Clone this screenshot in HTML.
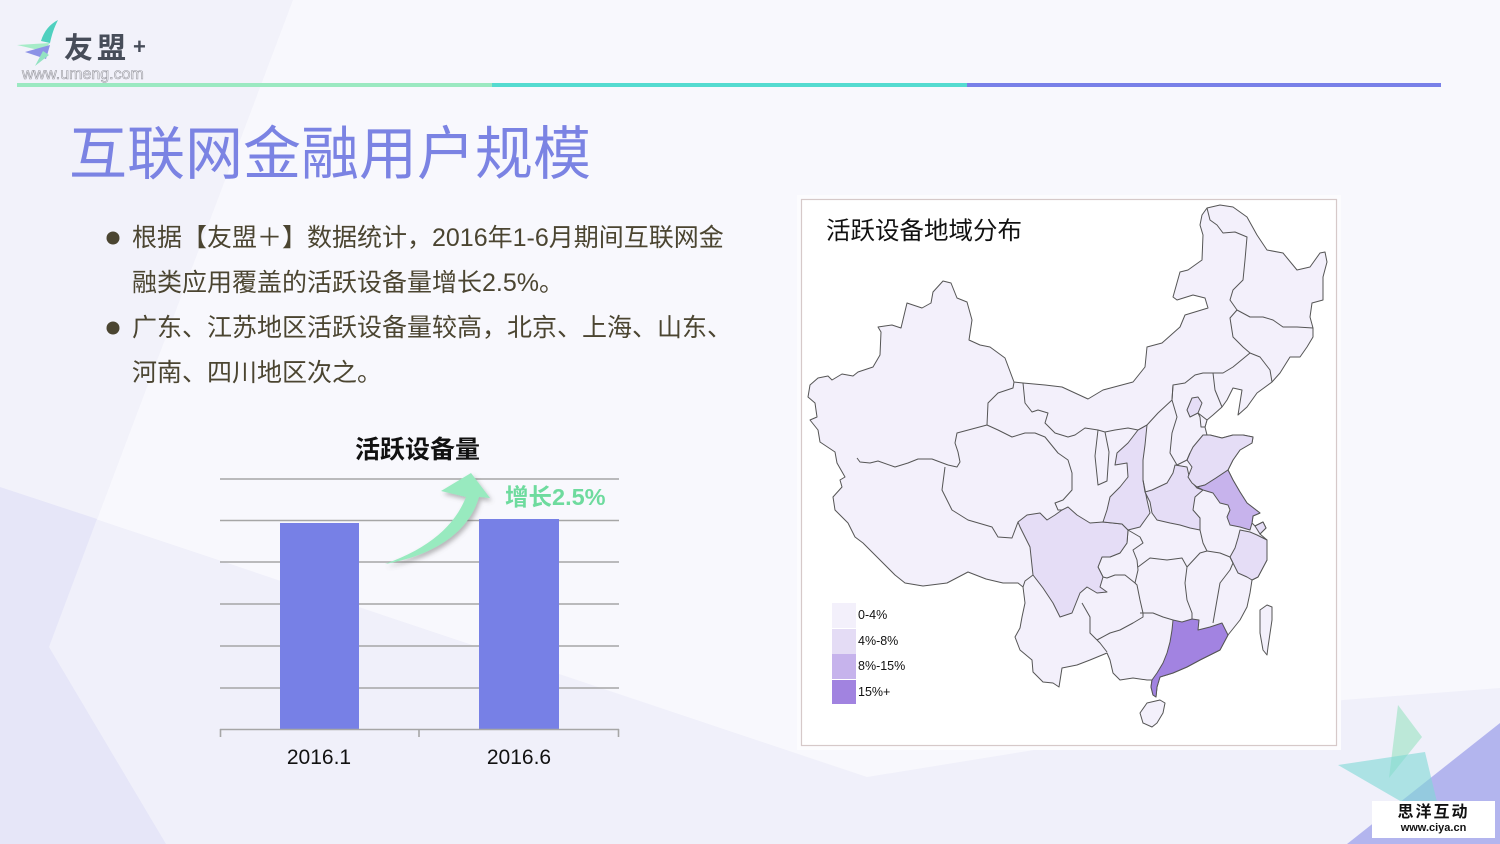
<!DOCTYPE html>
<html>
<head>
<meta charset="utf-8">
<style>
  html,body{margin:0;padding:0;}
  body{width:1500px;height:844px;position:relative;overflow:hidden;background:#f8f8fd;
       font-family:"Liberation Sans","Noto Sans CJK SC",sans-serif;}
  .abs{position:absolute;white-space:nowrap;}
  svg{position:absolute;left:0;top:0;}
</style>
</head>
<body>
<svg width="1500" height="844" viewBox="0 0 1500 844">
  <defs>
    <filter id="sh" x="-30%" y="-30%" width="160%" height="160%">
      <feDropShadow dx="2" dy="3" stdDeviation="2.5" flood-color="#666" flood-opacity="0.45"/>
    </filter>
  </defs>
  <!-- background -->
  <rect width="1500" height="844" fill="#f8f8fd"/>
  <polygon points="0,0 293,0 49,647 166,844 0,844" fill="#f2f2fa"/>
  <polygon points="0,487 867,777 1343,700 1500,688 1500,844 0,844" fill="#f0f0fa"/>
  <polygon points="0,487 97,519 49,647 166,844 0,844" fill="#e6e6f8"/>
  <polygon points="1347,844 1500,723 1500,844" fill="#b3b5ee"/>
  <polygon points="1398,705 1422,737 1389,778" fill="#9fe3c6" opacity="0.65"/>
  <polygon points="1338,765 1425,752 1437,802 1402,802" fill="#7fd8d6" opacity="0.6"/>
  <rect x="1372" y="801" width="123" height="37" fill="#ffffff"/>

  <!-- logo -->
  <path d="M58,20 C50,24 44,31 41,41 L50,43 C52,34 54,28 58,20 Z" fill="#4fd0bf"/>
  <path d="M17,45 L50,43 L43,51 Z" fill="#a6ecc8"/>
  <path d="M25,52 L50,45 L46,59 Z" fill="#8c92e6"/>
  <path d="M35,66 L43,51 L49,55 Z" fill="#93e2c2"/>

  <!-- header line -->
  <rect x="17" y="83" width="475" height="4" fill="#9be9c1"/>
  <rect x="492" y="83" width="475" height="4" fill="#55dbd0"/>
  <rect x="967" y="83" width="474" height="4" fill="#7880e8"/>

  <!-- bullets -->
  <circle cx="113" cy="238" r="6.5" fill="#4b4531"/>
  <circle cx="113" cy="328" r="6.5" fill="#4b4531"/>

  <!-- bar chart -->
  <g stroke="#a6a6a6" stroke-width="1.6">
    <line x1="220" y1="479" x2="619" y2="479"/>
    <line x1="220" y1="520.5" x2="619" y2="520.5"/>
    <line x1="220" y1="562" x2="619" y2="562"/>
    <line x1="220" y1="604" x2="619" y2="604"/>
    <line x1="220" y1="646" x2="619" y2="646"/>
    <line x1="220" y1="688" x2="619" y2="688"/>
  </g>
  <rect x="280" y="523" width="79" height="206" fill="#7780e6"/>
  <rect x="479" y="519" width="80" height="210" fill="#7780e6"/>
  <g stroke="#a6a6a6" stroke-width="1.6" fill="none">
    <line x1="220" y1="729.5" x2="619" y2="729.5"/>
    <line x1="220.5" y1="729" x2="220.5" y2="737"/>
    <line x1="419" y1="729" x2="419" y2="737"/>
    <line x1="618.5" y1="729" x2="618.5" y2="737"/>
  </g>
  <path d="M385,564 C430,556 468,535 479,497 L490,498 L471,473 L441,491 L466,497 C455,525 430,548 385,564 Z" fill="#98eabf" filter="url(#sh)"/>

  <!-- map box -->
  <rect x="797" y="195" width="544" height="555" fill="#fcfcfe"/>
  <rect x="801.5" y="199.5" width="535" height="546" fill="#ffffff" stroke="#d6c9c9" stroke-width="1.2"/>

  <g stroke="#555" stroke-width="1" stroke-linejoin="round" fill="#f3f0fb">
    <!-- outline -->
    <polygon points="808,397 810,385 818,378 828,376 832,380 842,374 853,376 858,372 873,367 880,355 881,332 878,327 892,325 901,328 907,303 922,308 931,303 933,292 943,281 951,283 957,298 967,302 972,320 969,340 980,345 990,347 1005,358 1014,382 1023,383 1045,385 1062,387 1075,393 1088,399 1103,390 1133,382 1145,367 1147,347 1162,343 1180,327 1185,315 1208,308 1205,298 1193,295 1177,300 1173,297 1180,272 1188,270 1202,260 1203,235 1200,225 1202,215 1207,208 1220,205 1233,207 1247,217 1257,235 1267,250 1283,253 1297,270 1310,267 1320,253 1325,252 1327,262 1323,277 1323,300 1312,303 1310,317 1313,328 1313,337 1307,347 1300,357 1290,357 1280,373 1272,382 1257,393 1247,407 1238,415 1242,390 1233,388 1227,400 1222,407 1213,415 1207,420 1205,427 1207,435 1210,435 1222,438 1233,435 1243,435 1253,437 1252,443 1240,450 1233,460 1228,470 1233,480 1240,492 1247,503 1260,513 1253,516 1252,523 1255,526 1263,522 1266,528 1260,534 1267,540 1267,560 1258,577 1252,580 1250,593 1247,607 1240,620 1228,635 1220,650 1200,660 1187,667 1173,673 1160,677 1157,687 1156,697 1153,695 1151,687 1152,680 1147,680 1133,678 1120,680 1113,673 1110,660 1107,653 1090,660 1077,665 1062,668 1059,687 1053,683 1043,682 1033,672 1032,660 1020,650 1015,637 1020,628 1022,617 1025,603 1023,587 1018,583 1003,583 986,579 968,572 947,583 923,586 905,583 895,575 881,561 863,543 855,537 848,523 835,510 833,497 842,487 840,480 845,477 837,463 835,452 820,442 818,430 810,420 817,417 815,403"/>
    <!-- Hainan -->
    <polygon points="1140,713 1147,703 1160,700 1165,703 1163,713 1157,723 1152,727 1143,723"/>
    <!-- Taiwan -->
    <polygon points="1260,610 1267,605 1272,607 1272,620 1268,647 1267,655 1263,650 1260,633"/>
    <!-- Ningxia -->
    <polygon points="1098,430 1105,432 1109,452 1107,481 1098,485 1095,456"/>
    <!-- Chongqing -->
    <polygon points="1128,530 1140,537 1143,543 1133,550 1137,560 1138,570 1135,583 1125,575 1115,575 1107,578 1103,577 1098,567 1102,557 1110,557 1120,553 1127,543"/>
    <!-- Tianjin -->
    <polygon points="1198,413 1207,420 1205,427 1201,427 1200,417"/>
  </g>

  <!-- highlighted provinces -->
  <g stroke="#555" stroke-width="1" stroke-linejoin="round">
    <polygon fill="#e5ddf6" points="1018,522 1027,515 1040,513 1047,520 1055,515 1062,510 1068,507 1077,515 1090,523 1103,522 1122,524 1128,530 1127,543 1120,553 1110,557 1102,557 1098,567 1103,577 1100,587 1107,592 1097,593 1087,587 1080,593 1072,613 1060,617 1053,603 1043,588 1033,575 1030,547 1020,527"/>
    <polygon fill="#e5ddf6" points="1147,425 1145,445 1143,460 1143,480 1147,500 1150,513 1140,527 1128,530 1122,524 1103,522 1107,510 1110,497 1120,487 1128,477 1127,463 1115,465 1117,453 1128,443 1138,430"/>
    <polygon fill="#e5ddf6" points="1145,492 1152,490 1167,483 1173,473 1175,465 1187,467 1190,480 1197,488 1203,490 1195,497 1193,510 1200,518 1200,530 1190,528 1180,525 1170,523 1157,520 1152,513 1150,502"/>
    <polygon fill="#e5ddf6" points="1190,453 1193,447 1203,435 1210,435 1222,438 1233,435 1243,435 1253,437 1252,443 1240,450 1233,460 1228,470 1216,478 1205,485 1197,487 1192,483 1188,477 1192,467 1187,460"/>
    <polygon fill="#e5ddf6" points="1187,410 1192,398 1198,397 1202,403 1198,413 1190,417"/>
    <polygon fill="#e5ddf6" points="1240,530 1250,532 1257,535 1267,540 1267,560 1258,577 1252,580 1247,577 1238,573 1233,563 1230,557 1235,548 1238,538"/>
    <polygon fill="#e5ddf6" points="1255,526 1263,522 1266,528 1260,534"/>
    <polygon fill="#c7b3ec" points="1197,487 1205,485 1216,478 1228,470 1233,480 1240,492 1247,503 1260,513 1253,516 1252,523 1250,530 1240,527 1230,525 1227,517 1230,510 1228,505 1220,503 1213,493 1203,490"/>
    <polygon fill="#a283e1" points="1173,620 1182,622 1192,619 1199,620 1198,630 1210,627 1222,623 1228,635 1220,650 1200,660 1187,667 1173,673 1160,677 1157,687 1156,697 1153,695 1151,687 1152,680 1157,673 1163,663 1167,653 1170,642 1172,630"/>
  </g>

  <!-- internal borders -->
  <g stroke="#555" stroke-width="1" fill="none" stroke-linejoin="round">
    <polyline points="857,458 860,462 870,463 878,461 895,467 908,463 918,459 932,459 948,465"/>
    <polyline points="948,465 957,467 960,462 958,452 955,443 957,433 987,425 988,403 998,393 1013,388 1014,382"/>
    <polyline points="987,425 998,430 1012,437 1025,433 1035,433 1045,437 1058,453 1068,460 1072,473 1072,490 1063,500 1055,503 1058,510 1062,510"/>
    <polyline points="945,467 942,490 952,510 968,520 992,527 998,537 1012,538 1018,522"/>
    <polyline points="1033,575 1025,581 1023,587"/>
    <polyline points="1023,383 1025,403 1032,412 1038,410 1048,413 1045,423 1055,433 1068,437 1075,435 1085,428 1098,430"/>
    <polyline points="1105,432 1115,430 1128,428 1138,430 1147,425 1158,413 1172,400 1173,385 1185,383 1195,375 1203,373 1213,373 1223,373 1233,367 1250,353 1243,347 1233,337 1230,318 1237,310 1230,300 1233,290 1243,280 1245,260 1247,237 1235,232 1223,233 1217,225 1210,220 1207,208"/>
    <polyline points="1237,310 1250,317 1263,317 1273,320 1283,327 1297,327 1313,328"/>
    <polyline points="1250,353 1260,357 1270,370 1272,382"/>
    <polyline points="1213,373 1215,390 1222,407"/>
    <polyline points="1173,385 1172,400 1177,417 1172,433 1170,453 1177,465 1187,460 1190,453"/>
    <polyline points="1143,480 1145,492"/>
    <polyline points="1138,567 1150,558 1167,560 1182,558 1187,567"/>
    <polyline points="1200,530 1203,543 1207,551 1200,553 1187,567"/>
    <polyline points="1207,551 1220,553 1230,557"/>
    <polyline points="1187,567 1185,583 1187,600 1192,613 1192,619"/>
    <polyline points="1230,557 1233,563 1230,570 1220,583 1217,600 1213,623"/>
    <polyline points="1140,613 1153,613 1163,617 1173,620"/>
    <polyline points="1135,583 1137,585 1140,600 1143,613"/>
    <polyline points="1082,603 1090,617 1090,633 1097,640"/>
    <polyline points="1097,640 1110,633 1120,630 1133,623 1143,617 1143,613"/>
    <polyline points="1097,640 1100,643 1107,652"/>
  </g>

  <!-- legend -->
  <rect x="832" y="603" width="24" height="25" fill="#f3f0fb"/>
  <rect x="832" y="629" width="24" height="25" fill="#e4dcf5"/>
  <rect x="832" y="654" width="24" height="25" fill="#c6b3ec"/>
  <rect x="832" y="680" width="24" height="24" fill="#a183e0"/>
</svg>

<!-- header text -->
<div class="abs" style="left:64px;top:30px;font-size:29px;line-height:33px;color:#474d59;letter-spacing:4px;font-weight:bold;font-family:'Noto Sans CJK SC',sans-serif;">友盟</div>
<div class="abs" style="left:133px;top:34px;font-size:22px;line-height:26px;color:#474d59;font-weight:bold;">+</div>
<div class="abs" style="left:22px;top:65px;font-size:16px;line-height:19px;color:#f4f4f8;-webkit-text-stroke:0.6px #9a9aa2;">www.umeng.com</div>

<!-- title -->
<div class="abs" style="left:69px;top:126px;font-size:58px;line-height:58px;color:#7b83e3;">互联网金融用户规模</div>

<!-- bullets text -->
<div class="abs" style="left:132px;top:215.5px;font-size:25px;line-height:45px;color:#4b4531;">根据【友盟＋】数据统计，2016年1-6月期间互联网金<br>融类应用覆盖的活跃设备量增长2.5%。<br>广东、江苏地区活跃设备量较高，北京、上海、山东、<br>河南、四川地区次之。</div>

<!-- chart text -->
<div class="abs" style="left:355px;top:436px;font-size:25px;line-height:28px;font-weight:bold;color:#111;">活跃设备量</div>
<div class="abs" style="left:505px;top:484px;font-size:23.5px;line-height:26px;font-weight:bold;color:#6edb9e;">增长2.5%</div>
<div class="abs" style="left:259px;top:745px;width:120px;text-align:center;font-size:21px;line-height:26px;color:#111;">2016.1</div>
<div class="abs" style="left:459px;top:745px;width:120px;text-align:center;font-size:21px;line-height:26px;color:#111;">2016.6</div>

<!-- map text -->
<div class="abs" style="left:826px;top:218px;font-size:24.5px;line-height:28px;color:#111;">活跃设备地域分布</div>
<div class="abs" style="left:858px;top:607px;font-size:12.5px;line-height:16px;color:#111;">0-4%</div>
<div class="abs" style="left:858px;top:633px;font-size:12.5px;line-height:16px;color:#111;">4%-8%</div>
<div class="abs" style="left:858px;top:658px;font-size:12.5px;line-height:16px;color:#111;">8%-15%</div>
<div class="abs" style="left:858px;top:684px;font-size:12.5px;line-height:16px;color:#111;">15%+</div>

<!-- watermark -->
<div class="abs" style="left:1372px;top:804px;width:123px;text-align:center;font-size:16px;line-height:18px;font-weight:bold;color:#111;letter-spacing:2px;">思洋互动</div>
<div class="abs" style="left:1372px;top:822px;width:123px;text-align:center;font-size:11px;line-height:13px;font-weight:bold;color:#111;">www.ciya.cn</div>
</body>
</html>
